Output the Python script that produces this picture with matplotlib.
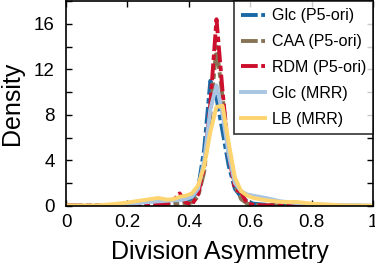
import matplotlib
matplotlib.use("Agg")
import matplotlib.pyplot as plt
from matplotlib.ticker import MultipleLocator

plt.rcParams["font.family"] = ["Liberation Sans", "DejaVu Sans"]

# grid of division asymmetry values (x) shared by all curves
x = [0, 0.1, 0.15, 0.2, 0.25, 0.3, 0.33, 0.35, 0.37, 0.39, 0.41, 0.43, 0.45,
     0.47, 0.49, 0.51, 0.53, 0.55, 0.57, 0.59, 0.61, 0.65, 0.7, 0.75, 0.8, 0.9, 1.0]

glc_p5 = [0.05, 0.05, 0.05, 0.1, 0.15, 0.2, 0.2, 0.25, 0.3, 0.4, 0.6, 1.5, 5.0,
          11.0, 9.5, 6.5, 3.5, 1.5, 0.8, 0.4, 0.2, 0.1, 0.05, 0.03, 0.02, 0.01, 0.0]
caa_p5 = [0.05, 0.05, 0.05, 0.05, 0.05, 0.1, 0.1, 0.15, 0.2, 0.25, 0.3, 0.8, 3.0,
          8.0, 14.0, 9.5, 4.5, 1.8, 0.6, 0.2, 0.1, 0.05, 0.05, 0.03, 0.02, 0.01, 0.0]
rdm_p5 = [0.05, 0.05, 0.05, 0.05, 0.05, 0.1, 0.2, 0.5, 1.1, 0.3, 0.1, 1.0, 3.5,
          9.0, 16.4, 10.0, 4.5, 1.5, 1.2, 0.2, 0.1, 0.05, 0.05, 0.03, 0.02, 0.01, 0.0]
glc_mrr = [0.02, 0.03, 0.05, 0.1, 0.3, 0.4, 0.45, 0.5, 0.5, 0.6, 0.8, 1.5, 4.0,
           8.5, 10.6, 8.0, 4.5, 2.0, 1.3, 1.0, 0.9, 0.7, 0.4, 0.25, 0.15, 0.05, 0.02]
lb_mrr = [0.05, 0.05, 0.15, 0.3, 0.5, 0.7, 0.55, 0.6, 0.8, 0.9, 1.1, 1.8, 3.5,
          6.5, 8.7, 8.8, 5.5, 2.5, 1.3, 0.9, 0.7, 0.5, 0.35, 0.35, 0.2, 0.05, 0.02]

labels = ["Glc (P5-ori)", "CAA (P5-ori)", "RDM (P5-ori)", "Glc (MRR)", "LB (MRR)"]
colors = ["#1b68a6", "#877455", "#cc0f2c", "#a9c5e2", "#fdd46f"]
series = [glc_p5, caa_p5, rdm_p5, glc_mrr, lb_mrr]
dashed = [True, True, True, False, False]

fig = plt.figure(figsize=(3.75, 2.63), dpi=100)
ax = fig.add_axes([0.176, 0.217, 0.819, 0.779])

for ys, lab, c, d in zip(series, labels, colors, dashed):
    if d:
        ax.plot(x, ys, color=c, lw=2.8, label=lab, dashes=(4.3, 0.9, 1.4, 0.9))
    else:
        ax.plot(x, ys, color=c, lw=2.8, label=lab)

ax.set_xlim(0, 1)
ax.set_ylim(0, 18)
ax.yaxis.set_major_locator(MultipleLocator(4))
ax.yaxis.set_minor_locator(MultipleLocator(2))
ax.set_xticks([0, 0.2, 0.4, 0.6, 0.8, 1.0])
ax.set_xticklabels(["0", "0.2", "0.4", "0.6", "0.8", "1"])
ax.tick_params(which="both", direction="in", top=True, right=True,
               length=4.5, width=1, labelsize=13.5)
ax.tick_params(axis="x", pad=6)
ax.tick_params(axis="y", pad=8)
for s in ax.spines.values():
    s.set_linewidth(1.2)

ax.set_xlabel("Division Asymmetry", fontsize=18, labelpad=6)
ax.set_ylabel("Density", fontsize=18, labelpad=7)

leg = ax.legend(loc="upper right", fontsize=11.5, frameon=True, fancybox=False,
                borderaxespad=0, handlelength=1.5, handletextpad=0.4,
                labelspacing=0.68, borderpad=0.45)
leg.get_frame().set_edgecolor("black")
leg.get_frame().set_linewidth(1.2)

fig.savefig("out.png", dpi=100)
